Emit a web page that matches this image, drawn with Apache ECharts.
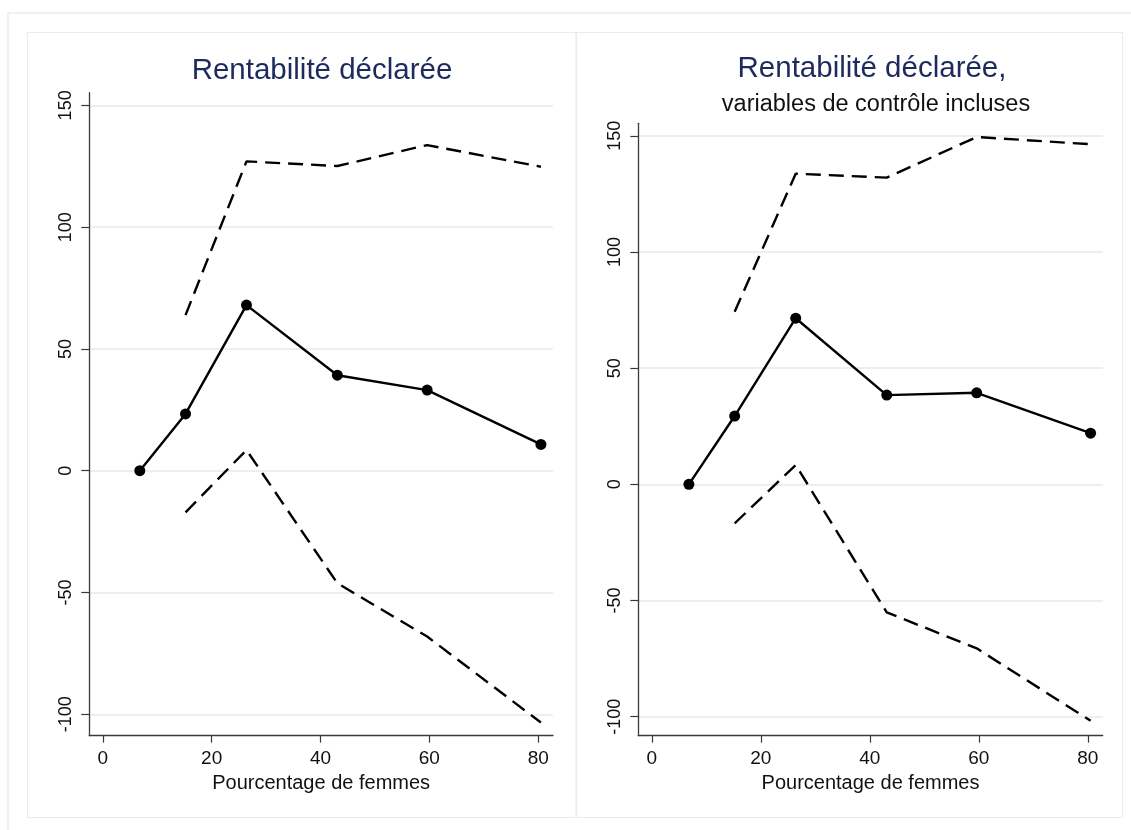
<!DOCTYPE html>
<html>
<head>
<meta charset="utf-8">
<script src="https://cdn.jsdelivr.net/npm/echarts@6/dist/echarts.min.js"></script>
<style>
  html, body { margin: 0; padding: 0; background: #ffffff; }
  #chart { width: 1131px; height: 830px; }
</style>
</head>
<body>
<div id="chart"></div>
<script>
// ---- Data ----
const pctWomen = [6.8, 15.2, 26.4, 43.1, 59.6, 80.5];   // x: Pourcentage de femmes
const ciX = pctWomen.slice(1);                          // confidence band starts at 2nd point

// Left panel: Rentabilité déclarée
const leftEstimate = [0, 23.3, 68.0, 39.2, 33.1, 10.8];
const leftUpper    = [63.9, 127.0, 125.1, 133.7, 124.8];
const leftLower    = [-17.1, 8.5, -46.2, -68.1, -103.4];

// Right panel: Rentabilité déclarée, variables de contrôle incluses
const rightEstimate = [0, 29.4, 71.5, 38.4, 39.4, 22.0];
const rightUpper    = [74.3, 133.7, 132.0, 149.5, 146.4];
const rightLower    = [-16.8, 8.3, -55.1, -70.6, -101.8];

// Tick labels
const xTicks = [0, 20, 40, 60, 80];
const yTicks = [-100, -50, 0, 50, 100, 150];

// Texts
const leftTitle = 'Rentabilité déclarée';
const rightTitle = 'Rentabilité déclarée,';
const rightSubtitle = 'variables de contrôle incluses';
const xName = 'Pourcentage de femmes';

// ---- Helpers ----
const FONT = '"Liberation Sans", Arial, Helvetica, sans-serif';
const pairs = (xs, ys) => xs.map((x, i) => [x, ys[i]]);

function xAxisFor(gridIndex) {
  return {
    type: 'value', gridIndex: gridIndex,
    min: -2.48, max: 82.72,
    name: xName, nameLocation: 'middle', nameGap: 33,
    nameTextStyle: { fontFamily: FONT, fontSize: 20, color: '#111' },
    axisLine: { show: true, onZero: false, lineStyle: { color: '#3a3a3a', width: 1.3 } },
    axisTick: { show: true, length: 7, customValues: xTicks, lineStyle: { color: '#3a3a3a', width: 1.2 } },
    axisLabel: { customValues: xTicks, margin: 14, fontFamily: FONT, fontSize: 19, color: '#111' },
    splitLine: { show: false }
  };
}
function yAxisFor(gridIndex, min, max) {
  return {
    type: 'value', gridIndex: gridIndex,
    min: min, max: max,
    axisLine: { show: true, onZero: false, lineStyle: { color: '#3a3a3a', width: 1.3 } },
    axisTick: { show: true, length: 8, customValues: yTicks, lineStyle: { color: '#3a3a3a', width: 1.2 } },
    axisLabel: { customValues: yTicks, rotate: 90, margin: 14, fontFamily: FONT, fontSize: 18, color: '#111' },
    splitLine: { show: true, lineStyle: { color: '#e8f0f2', width: 1.8 } }
  };
}
function estSeries(idx, ys) {
  return {
    type: 'line', xAxisIndex: idx, yAxisIndex: idx,
    data: pairs(pctWomen, ys),
    symbol: 'circle', symbolSize: 11, showSymbol: true,
    lineStyle: { color: '#000', width: 2.4 },
    itemStyle: { color: '#000' },
    z: 5, silent: true, animation: false
  };
}
function ciSeries(idx, ys) {
  return {
    type: 'line', xAxisIndex: idx, yAxisIndex: idx,
    data: pairs(ciX, ys),
    symbol: 'none',
    lineStyle: { color: '#000', width: 2.4, type: [15, 8] },
    z: 4, silent: true, animation: false
  };
}

const chart = echarts.init(document.getElementById('chart'), null, { renderer: 'canvas' });
chart.setOption({
  backgroundColor: '#ffffff',
  animation: false,
  title: [
    { text: leftTitle, left: 322, top: 56, textAlign: 'center', padding: 0,
      textStyle: { fontFamily: FONT, fontSize: 29.5, fontWeight: 'normal', color: '#1c2a5c' } },
    { text: rightTitle, left: 872, top: 54, textAlign: 'center', padding: 0,
      textStyle: { fontFamily: FONT, fontSize: 29.5, fontWeight: 'normal', color: '#1c2a5c' } },
    { text: rightSubtitle, left: 876, top: 93, textAlign: 'center', padding: 0,
      textStyle: { fontFamily: FONT, fontSize: 23.5, fontWeight: 'normal', color: '#111' } }
  ],
  graphic: [
    { type: 'rect', z: -10, silent: true, shape: { x: 8, y: 13, width: 1140, height: 840 },
      style: { fill: '#ffffff', stroke: '#e6eef0', lineWidth: 1.5 } },
    { type: 'rect', z: -9, silent: true, shape: { x: 27.5, y: 32.5, width: 548.5, height: 785 },
      style: { fill: '#ffffff', stroke: '#e4edf0', lineWidth: 1.2 } },
    { type: 'rect', z: -9, silent: true, shape: { x: 576.5, y: 32.5, width: 546, height: 785 },
      style: { fill: '#ffffff', stroke: '#e4edf0', lineWidth: 1.2 } }
  ],
  grid: [
    { left: 89.3, top: 92.7, width: 463.7, height: 643, containLabel: false },
    { left: 638.3, top: 123.3, width: 464.4, height: 612.4, containLabel: false }
  ],
  xAxis: [xAxisFor(0), xAxisFor(1)],
  yAxis: [yAxisFor(0, -108.8, 155.2), yAxisFor(1, -108.2, 155.4)],
  series: [
    ciSeries(0, leftUpper), ciSeries(0, leftLower), estSeries(0, leftEstimate),
    ciSeries(1, rightUpper), ciSeries(1, rightLower), estSeries(1, rightEstimate)
  ]
});
</script>
</body>
</html>
